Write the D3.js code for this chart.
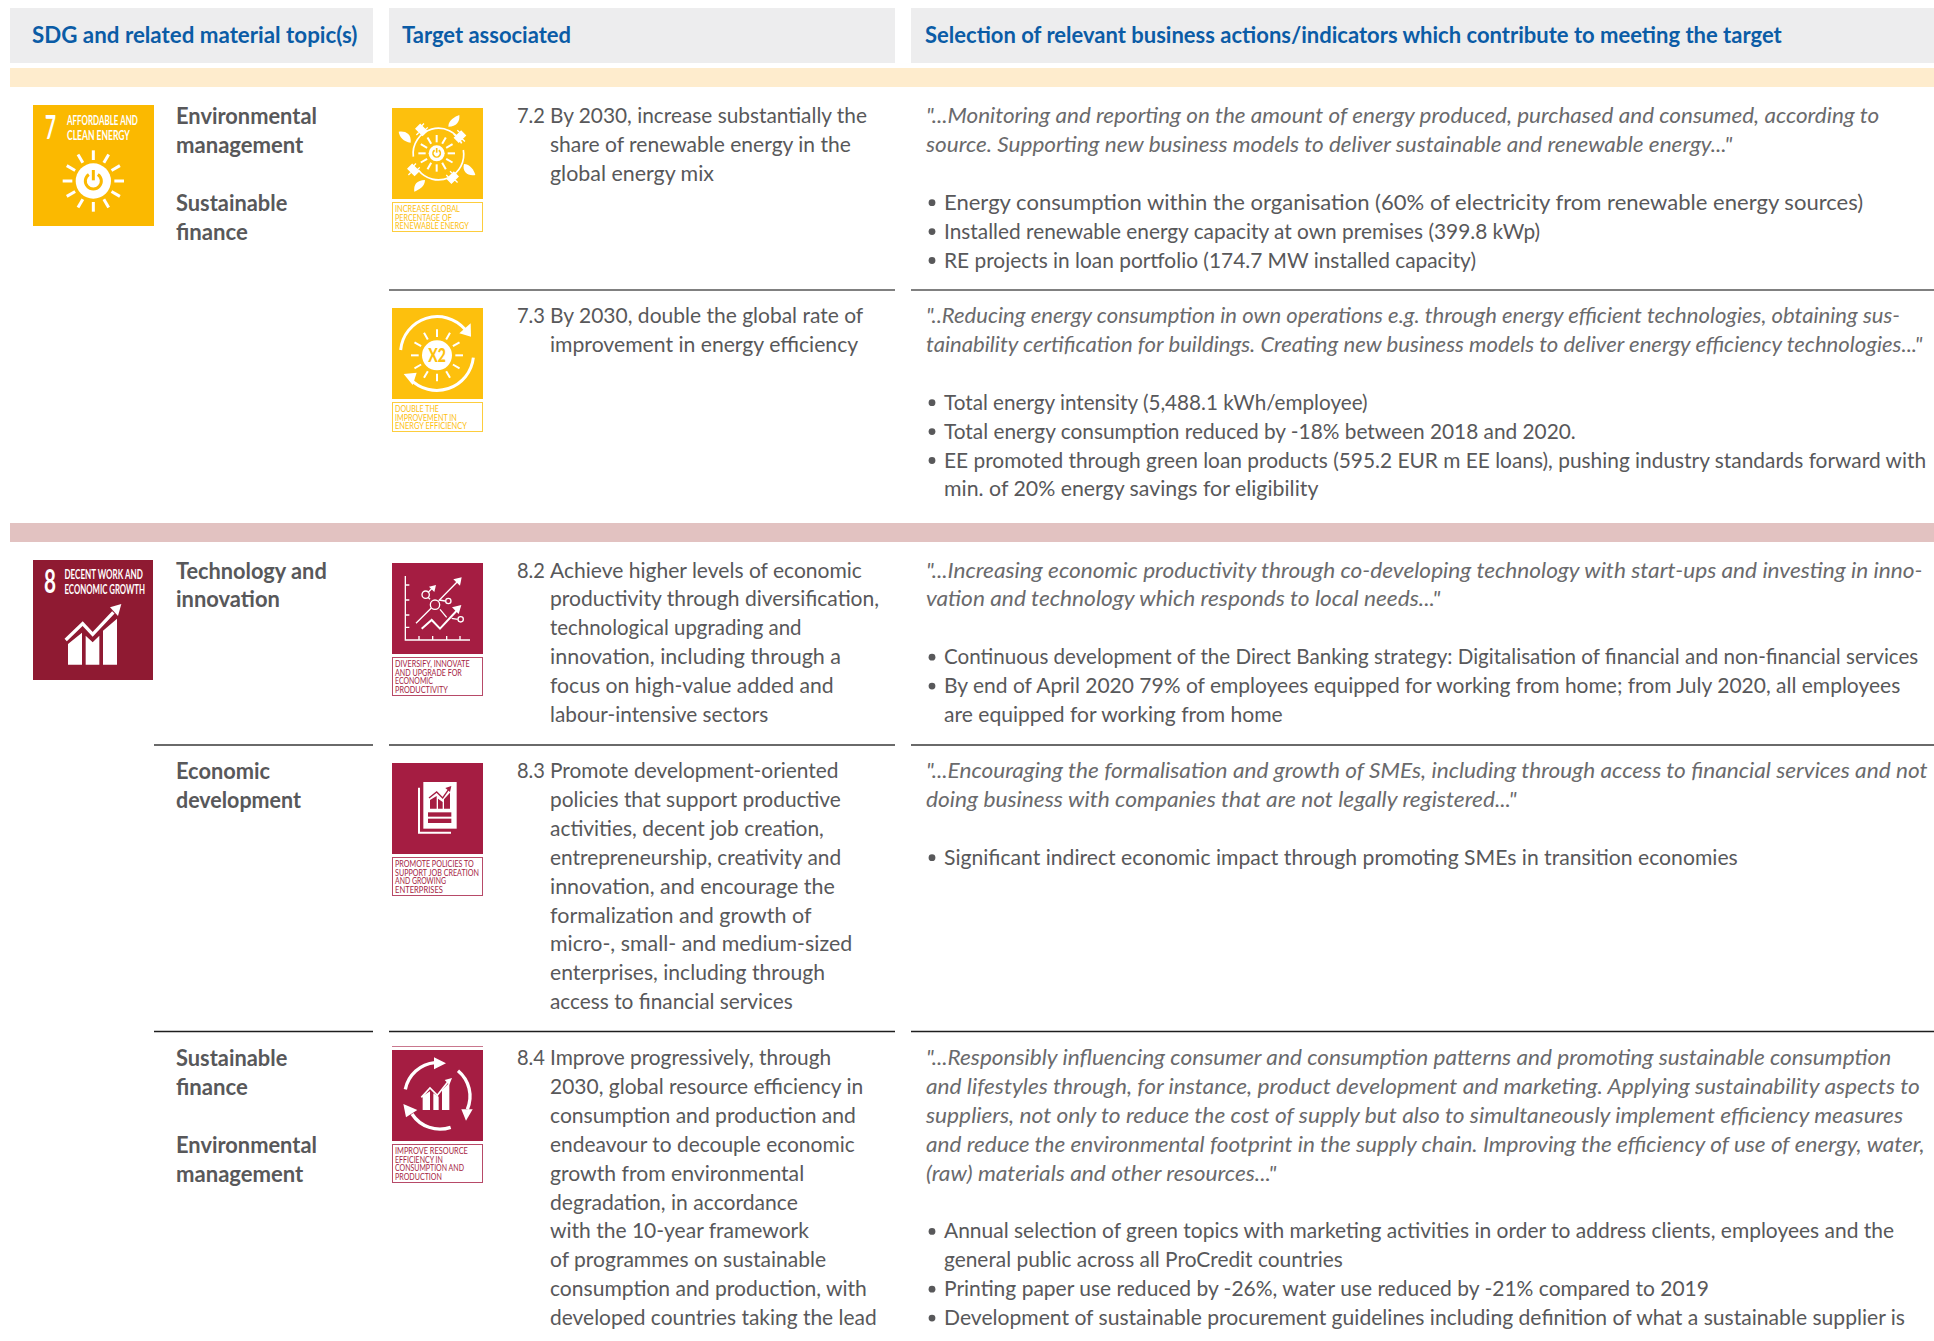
<!DOCTYPE html>
<html>
<head>
<meta charset="utf-8">
<script src="https://cdn.jsdelivr.net/npm/d3@7"></script>
<style>
  html, body { margin: 0; background: #fff; }
  text { font-family: Lato, sans-serif; white-space: pre; }
</style>
</head>
<body>
<div id="table"></div>
<script>
// table header and column text
const headers = ["SDG and related material topic(s)", "Target associated",
  "Selection of relevant business actions/indicators which contribute to meeting the target"]

const topics7 = ["Environmental", "management", "", "Sustainable", "finance"]
const topics82 = ["Technology and", "innovation"]
const topics83 = ["Economic", "development"]
const topics84 = ["Sustainable", "finance", "", "Environmental", "management"]

const target72 = ["By 2030, increase substantially the", "share of renewable energy in the", "global energy mix"]
const target73 = ["By 2030, double the global rate of", "improvement in energy efficiency"]
const target82 = ["Achieve higher levels of economic", "productivity through diversification,", "technological upgrading and",
  "innovation, including through a", "focus on high-value added and", "labour-intensive sectors"]
const target83 = ["Promote development-oriented", "policies that support productive", "activities, decent job creation,",
  "entrepreneurship, creativity and", "innovation, and encourage the", "formalization and growth of",
  "micro-, small- and medium-sized", "enterprises, including through", "access to financial services"]
const target84 = ["Improve progressively, through", "2030, global resource efficiency in", "consumption and production and",
  "endeavour to decouple economic", "growth from environmental", "degradation, in accordance",
  "with the 10-year framework", "of programmes on sustainable", "consumption and production, with",
  "developed countries taking the lead"]

const quote72 = ["\"...Monitoring and reporting on the amount of energy produced, purchased and consumed, according to",
  "source. Supporting new business models to deliver sustainable and renewable energy...\""]
const quote73 = ["\"..Reducing energy consumption in own operations e.g. through energy efficient technologies, obtaining sus-",
  "tainability certification for buildings. Creating new business models to deliver energy efficiency technologies...\""]
const quote82 = ["\"...Increasing economic productivity through co-developing technology with start-ups and investing in inno-",
  "vation and technology which responds to local needs...\""]
const quote83 = ["\"...Encouraging the formalisation and growth of SMEs, including through access to financial services and not",
  "doing business with companies that are not legally registered...\""]
const quote84 = ["\"...Responsibly influencing consumer and consumption patterns and promoting sustainable consumption",
  "and lifestyles through, for instance, product development and marketing. Applying sustainability aspects to",
  "suppliers, not only to reduce the cost of supply but also to simultaneously implement efficiency measures",
  "and reduce the environmental footprint in the supply chain. Improving the efficiency of use of energy, water,",
  "(raw) materials and other resources...\""]

// a bullet with a second line is two strings in an inner array
const bullets72 = [["Energy consumption within the organisation (60% of electricity from renewable energy sources)"],
  ["Installed renewable energy capacity at own premises (399.8 kWp)"],
  ["RE projects in loan portfolio (174.7 MW installed capacity)"]]
const bullets73 = [["Total energy intensity (5,488.1 kWh/employee)"],
  ["Total energy consumption reduced by -18% between 2018 and 2020."],
  ["EE promoted through green loan products (595.2 EUR m EE loans), pushing industry standards forward with",
   "min. of 20% energy savings for eligibility"]]
const bullets82 = [["Continuous development of the Direct Banking strategy: Digitalisation of financial and non-financial services"],
  ["By end of April 2020 79% of employees equipped for working from home; from July 2020, all employees",
   "are equipped for working from home"]]
const bullets83 = [["Significant indirect economic impact through promoting SMEs in transition economies"]]
const bullets84 = [["Annual selection of green topics with marketing activities in order to address clients, employees and the",
   "general public across all ProCredit countries"],
  ["Printing paper use reduced by -26%, water use reduced by -21% compared to 2019"],
  ["Development of sustainable procurement guidelines including definition of what a sustainable supplier is"]]

const rows = [
  {num: "7.2", target: target72, topics: topics7, quote: quote72, bullets: bullets72},
  {num: "7.3", target: target73, topics: [], quote: quote73, bullets: bullets73},
  {num: "8.2", target: target82, topics: topics82, quote: quote82, bullets: bullets82},
  {num: "8.3", target: target83, topics: topics83, quote: quote83, bullets: bullets83},
  {num: "8.4", target: target84, topics: topics84, quote: quote84, bullets: bullets84}
]

const headerEnds = [290, 463, 1445]
const topicEnds = [[257, 246, 0, 233, 201], [], [265, 227], [219, 244], [233, 201, 0, 257, 246]]
const targetEnds = [[703, 690, 579], [700, 696], [699, 713, 650, 682, 676, 623],
  [680, 682, 668, 682, 677, 658, 691, 669, 643],
  [674, 700, 694, 693, 652, 647, 656, 670, 703, 711]]
const quoteEnds = [[1524, 1405], [1541, 1559], [1559, 1168], [1563, 1230], [1534, 1557, 1543, 1561, 1035]]
const bulletEnds = [[1511, 1249, 1197], [1109, 1278, 1562, 1069], [1556, 1541, 1040], [1409], [1536, 1089, 1386, 1545]]

const width = 1934
const height = 1341
const grey = "#58585a"
const yellow = "#fbb900"
const yellow2 = "#fdc00d"
const red8 = "#8f1a32"
const red2 = "#a51d42"

// baseline of the first line of each row, line pitch comes from the scale
const rowY = [124, 324, 578.5, 779, 1066]
const lineY = d3.scaleLinear().domain([0, 1]).range([0, 28.9])
const view = d3.scaleLinear().domain([0, 1568]).range([0, width])

const svg = d3.select("#table").append("svg")
  .attr("width", width).attr("height", height)
  .style("display", "block")

// header boxes and the two coloured bands
const columns = [[10, 373], [389, 895], [911, 1934]]
const headerX = [32, 402, 925]
svg.selectAll("rect.head").data(headers).enter().append("rect")
  .attr("class", "head")
  .attr("x", (d, i) => columns[i][0]).attr("y", 8)
  .attr("width", (d, i) => columns[i][1] - columns[i][0]).attr("height", 55)
  .attr("fill", "#ededee")
svg.append("rect").attr("x", 10).attr("y", 68).attr("width", 1924).attr("height", 19).attr("fill", "#feeccd")
svg.append("rect").attr("x", 10).attr("y", 523).attr("width", 1924).attr("height", 19).attr("fill", "#e2c2c1")

// squeeze text so it ends where the printed line ends, the original face is narrower than Lato
function put(g, str, x, y, size, right, fill, opts) {
  const t = g.append("text")
    .attr("font-size", size).attr("fill", fill)
    .attr("font-weight", opts && opts.weight || 400)
    .attr("font-style", opts && opts.style || "normal")
    .text(str)
  const sx = (right - x) / t.node().getComputedTextLength()
  t.attr("transform", `translate(${x},${y}) scale(${sx},1)`)
  return t
}

headers.forEach((h, i) => put(svg, h, headerX[i], 43, 22.5, view(headerEnds[i]), "#0b5ca6", {weight: 700}))

// rule lines, they do not print at the same weight down the page
const rules = [[389, 895, 290, "#808080", 2], [911, 1934, 290, "#808080", 2],
  [154, 373, 745, "#6a6a6a", 2], [389, 895, 745, "#6a6a6a", 2], [911, 1934, 745, "#6a6a6a", 2],
  [154, 373, 1031.5, "#1e1e1e", 1.4], [389, 895, 1031.5, "#1e1e1e", 1.4], [911, 1934, 1031.5, "#1e1e1e", 1.4]]
svg.selectAll("line.rule").data(rules).enter().append("line")
  .attr("class", "rule")
  .attr("x1", d => d[0]).attr("x2", d => d[1])
  .attr("y1", d => d[2]).attr("y2", d => d[2])
  .attr("stroke", d => d[3]).attr("stroke-width", d => d[4])

// all row text
rows.forEach((r, ri) => {
  const g = svg.append("g").attr("class", "row")
  const y0 = rowY[ri]
  const yb = y0 - 1
  r.topics.forEach((t, i) => {
    if (t) put(g, t, 176, y0 + lineY(i), 23, view(topicEnds[ri][i]), grey, {weight: 700})
  })
  put(g, r.num, 517, yb, 22, 545, grey)
  r.target.forEach((t, i) => put(g, t, 550, yb + lineY(i), 22, view(targetEnds[ri][i]), grey))
  r.quote.forEach((t, i) => put(g, t, 926, yb + lineY(i), 22, view(quoteEnds[ri][i]), "#6a6a6c", {style: "italic"}))
  let n = r.quote.length + 1
  let k = 0
  r.bullets.forEach(b => {
    g.append("circle").attr("cx", 932).attr("cy", yb + lineY(n) - 7).attr("r", 3.4).attr("fill", grey)
    b.forEach(t => {
      put(g, t, 944, yb + lineY(n), 22, view(bulletEnds[ri][k]), grey)
      n++
      k++
    })
  })
})

// ---- icons, coordinates are in zoomed crop units (3x)
function crop(x, y) {
  return svg.append("g").attr("transform", `translate(${x},${y}) scale(${1 / 3})`)
}
function sun(g, cx, cy, r0, r1, w, color) {
  g.selectAll(null).data(d3.range(12)).enter().append("line")
    .attr("x1", d => cx + r0 * Math.cos(d * Math.PI / 6))
    .attr("y1", d => cy + r0 * Math.sin(d * Math.PI / 6))
    .attr("x2", d => cx + r1 * Math.cos(d * Math.PI / 6))
    .attr("y2", d => cy + r1 * Math.sin(d * Math.PI / 6))
    .attr("stroke", color).attr("stroke-width", w)
}
function power(g, cx, cy, r, w, color) {
  const arc = d3.arc().innerRadius(r - w / 2).outerRadius(r + w / 2).startAngle(0.6).endAngle(2 * Math.PI - 0.6)
  g.append("path").attr("transform", `translate(${cx},${cy})`).attr("d", arc()).attr("fill", color)
  g.append("line").attr("x1", cx).attr("x2", cx).attr("y1", cy - r - w).attr("y2", cy - 2)
    .attr("stroke", color).attr("stroke-width", w)
}
// lines come as [text, printed width]
function caption(x, y, h, lines, color) {
  svg.append("rect").attr("x", x + 0.5).attr("y", y + 0.5).attr("width", 90).attr("height", h)
    .attr("fill", "none").attr("stroke", color).attr("stroke-width", 1).attr("stroke-opacity", 0.8)
  lines.forEach((l, i) => put(svg, l[0], x + 3, y + 10 + i * 8.6, 9, x + 3 + l[1], color, {}))
}
function path(g, d, fill, stroke, w) {
  return g.append("path").attr("d", d).attr("fill", fill || "none")
    .attr("stroke", stroke || "none").attr("stroke-width", w || 0)
}

// SDG 7 square
svg.append("rect").attr("x", 33).attr("y", 105).attr("width", 121).attr("height", 121).attr("fill", yellow)
put(svg, "7", 45, 139, 33, 56, "#fff", {weight: 700})
put(svg, "AFFORDABLE AND", 67, 125, 14, 138, "#fff", {weight: 700})
put(svg, "CLEAN ENERGY", 67, 139.5, 14, 130, "#fff", {weight: 700})
const i7 = crop(0, 0)
sun(i7, 280, 543, 63, 92, 9, "#fff")
i7.append("circle").attr("cx", 280).attr("cy", 543).attr("r", 53).attr("fill", "#fff")
power(i7, 280, 543, 24, 9, yellow)

// SDG 8 square
svg.append("rect").attr("x", 33).attr("y", 560).attr("width", 120).attr("height", 120).attr("fill", red8)
put(svg, "8", 44, 593, 33, 56, "#fff", {weight: 700})
put(svg, "DECENT WORK AND", 64.5, 579, 14, 143, "#fff", {weight: 700})
put(svg, "ECONOMIC GROWTH", 64.5, 594, 14, 145, "#fff", {weight: 700})
const i8 = crop(0, 520)
path(i8, "M204 372L246 338V434H204ZM257 347L278 367L298 347V434H257ZM309 332L351 296V434H309Z", "#fff")
path(i8, "M197 360L248 311L278 343L340 277", null, "#fff", 10)
path(i8, "M364 252L330 262L354 288Z", "#fff")

// target icon 7.2
svg.append("rect").attr("x", 392).attr("y", 108).attr("width", 91).attr("height", 91).attr("fill", yellow2)
const t72 = crop(0, 0)
sun(t72, 1310, 460, 33, 55, 6, "#fff")
t72.append("circle").attr("cx", 1310).attr("cy", 460).attr("r", 24).attr("fill", "#fff")
power(t72, 1310, 460, 11, 5, yellow2)
path(t72, "M1240 470A76 76 0 0 1 1385 430", null, "#fff", 5)
path(t72, "M1390 450A76 76 0 0 1 1255 510", null, "#fff", 5)
path(t72, "M1345 380C1345 360 1365 350 1378 345C1380 365 1370 380 1345 380Z", "#fff")
path(t72, "M1232 428C1210 425 1198 410 1196 395C1215 392 1235 400 1232 428Z", "#fff")
path(t72, "M1392 492C1410 492 1422 510 1426 525C1405 530 1385 515 1392 492Z", "#fff")
path(t72, "M1275 540C1275 560 1255 570 1243 575C1240 555 1250 540 1275 540Z", "#fff")
;[[1262, 392, 45], [1382, 412, -45], [1238, 512, 45], [1360, 535, -45]].forEach(p => {
  path(t72, "M-14 -12H14V6H-14ZM-8 -22V-12M8 -22V-12M0 6V18", "#fff", "#fff", 4)
    .attr("transform", `translate(${p[0]},${p[1]}) rotate(${p[2]})`)
})
caption(392, 202, 29, [["INCREASE GLOBAL", 65], ["PERCENTAGE OF", 57], ["RENEWABLE ENERGY", 74]], yellow2)

// target icon 7.3
svg.append("rect").attr("x", 392).attr("y", 308).attr("width", 91).attr("height", 91).attr("fill", yellow2)
const t73 = crop(370, 280)
sun(t73, 201, 226, 55, 78, 6, "#fff")
t73.append("circle").attr("cx", 201).attr("cy", 226).attr("r", 45).attr("fill", "#fff")
put(t73, "X2", 175, 245, 54, 228, yellow2, {weight: 900})
path(t73, "M92 210A110 110 0 0 1 285 148", null, "#fff", 9)
path(t73, "M302 130L303 170L268 160Z", "#fff")
path(t73, "M310 233A110 110 0 0 1 120 296", null, "#fff", 9)
path(t73, "M101 282L140 278L128 315Z", "#fff")
caption(392, 402, 29, [["DOUBLE THE", 44], ["IMPROVEMENT IN", 62], ["ENERGY EFFICIENCY", 72]], yellow2)

// target icon 8.2
svg.append("rect").attr("x", 392).attr("y", 563).attr("width", 91).attr("height", 91).attr("fill", red2)
const t82 = crop(0, 520)
path(t82, "M1216 168V360H1410M1216 195H1228M1216 240H1228M1216 285H1228M1216 322H1228M1257 360V348M1298 360V348M1340 360V348M1380 360V348", null, "#fff", 4)
path(t82, "M1248 310L1294 264M1316 242L1372 185", null, "#fff", 4)
path(t82, "M1385 172L1360 178L1380 197Z", "#fff")
path(t82, "M1265 326L1295 300L1320 326L1372 270", null, "#fff", 6)
path(t82, "M1384 255L1356 262L1376 282Z", "#fff")
path(t82, "M1290 238L1284 232M1284 218L1297 204", null, "#fff", 4)
path(t82, "M1308 195L1287 200L1303 216Z", "#fff")
path(t82, "M1318 240L1335 243M1320 268L1340 292M1355 295L1373 298", null, "#fff", 4)
;[[1305, 254, 14], [1277, 224, 11], [1345, 243, 8], [1382, 298, 8]].forEach(c => {
  t82.append("circle").attr("cx", c[0]).attr("cy", c[1]).attr("r", c[2])
    .attr("fill", "none").attr("stroke", "#fff").attr("stroke-width", 4)
})
caption(392, 657, 38, [["DIVERSIFY, INNOVATE", 75], ["AND UPGRADE FOR", 67], ["ECONOMIC", 38], ["PRODUCTIVITY", 53]], red2)

// target icon 8.3
svg.append("rect").attr("x", 392).attr("y", 763).attr("width", 91).attr("height", 91).attr("fill", red2)
const t83 = crop(370, 750)
path(t83, "M147 113V248H243", null, "#fff", 6)
t83.append("rect").attr("x", 160).attr("y", 96).attr("width", 100).attr("height", 140).attr("fill", "#fff")
path(t83, "M180 150L200 138V176H180ZM204 146L218 156V176H204ZM222 148L240 128V176H222Z", red2)
path(t83, "M177 144L200 126L218 144L236 118", null, red2, 4)
path(t83, "M244 108L226 114L240 126Z", red2)
t83.append("rect").attr("x", 174).attr("y", 187).attr("width", 70).attr("height", 13).attr("fill", red2)
t83.append("rect").attr("x", 174).attr("y", 206).attr("width", 70).attr("height", 13).attr("fill", red2)
caption(392, 857, 38, [["PROMOTE POLICIES TO", 79], ["SUPPORT JOB CREATION", 84], ["AND GROWING", 51], ["ENTERPRISES", 48]], red2)

// target icon 8.4
svg.append("line").attr("x1", 392).attr("x2", 483).attr("y1", 1046.5).attr("y2", 1046.5)
  .attr("stroke", red2).attr("stroke-opacity", 0.6)
svg.append("rect").attr("x", 392).attr("y", 1050).attr("width", 91).attr("height", 91).attr("fill", red2)
const t84 = crop(370, 1030)
path(t84, "M106 178A100 100 0 0 1 195 98", null, "#fff", 10)
path(t84, "M228 100L192 82L192 118Z", "#fff")
path(t84, "M264 122A100 100 0 0 1 292 238", null, "#fff", 10)
path(t84, "M288 272L308 238L274 238Z", "#fff")
path(t84, "M242 292A100 100 0 0 1 126 252", null, "#fff", 10)
path(t84, "M100 222L108 262L142 240Z", "#fff")
path(t84, "M158 198L180 184V240H158ZM190 190L206 200V240H190ZM216 180L238 158V240H216Z", "#fff")
path(t84, "M154 202L180 174L202 196L238 150", null, "#fff", 5)
path(t84, "M246 144L224 150L238 164Z", "#fff")
caption(392, 1144, 38, [["IMPROVE RESOURCE", 73], ["EFFICIENCY IN", 48], ["CONSUMPTION AND", 69], ["PRODUCTION", 47]], red2)
</script>
</body>
</html>
